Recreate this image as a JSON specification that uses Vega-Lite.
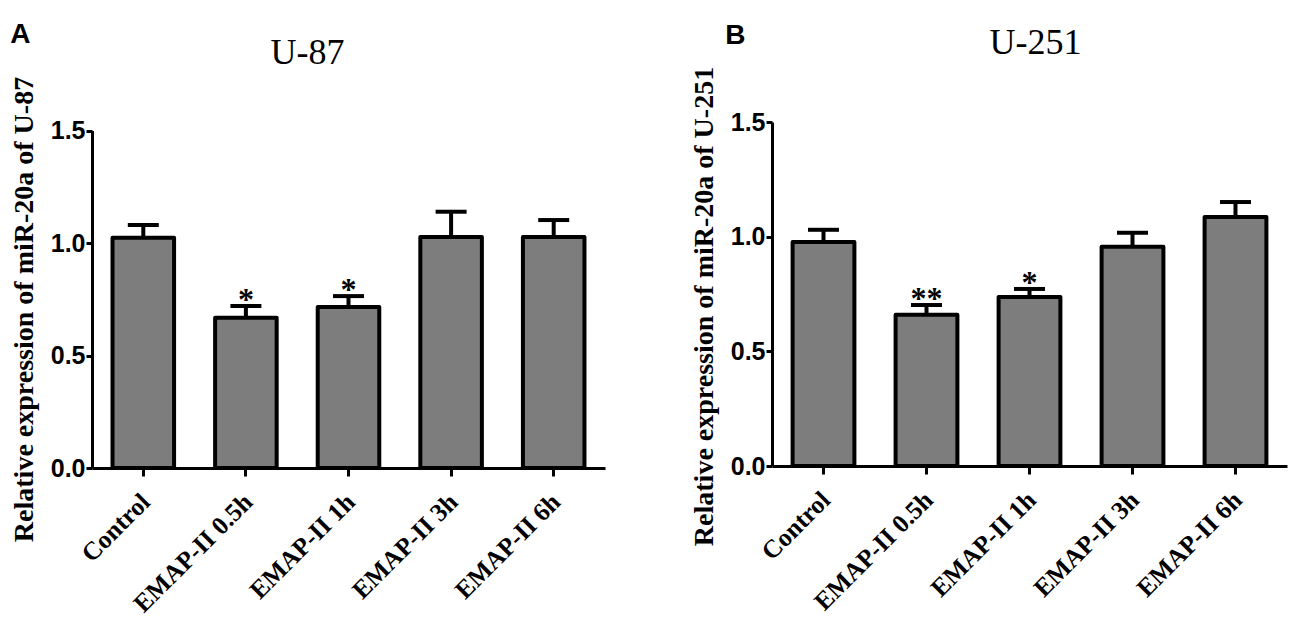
{
  "$schema": "https://vega.github.io/schema/vega-lite/v6.json",
  "background": "white",
  "padding": {"left": 10, "top": 21, "right": 4, "bottom": 4},
  "config": {
    "view": {"stroke": null},
    "axis": {
      "domainColor": "black", "domainWidth": 3, "tickColor": "black", "tickWidth": 3,
      "labelColor": "black", "titleColor": "black", "grid": false
    },
    "concat": {"spacing": 85}
  },
  "datasets": {
    "u87": [
      {"group": "Control", "mean": 1.023, "err": 1.08, "sig": ""},
      {"group": "EMAP-II 0.5h", "mean": 0.668, "err": 0.72, "sig": "*"},
      {"group": "EMAP-II 1h", "mean": 0.716, "err": 0.764, "sig": "*"},
      {"group": "EMAP-II 3h", "mean": 1.027, "err": 1.139, "sig": ""},
      {"group": "EMAP-II 6h", "mean": 1.027, "err": 1.102, "sig": ""}
    ],
    "u251": [
      {"group": "Control", "mean": 0.977, "err": 1.03, "sig": ""},
      {"group": "EMAP-II 0.5h", "mean": 0.659, "err": 0.702, "sig": "**"},
      {"group": "EMAP-II 1h", "mean": 0.737, "err": 0.772, "sig": "*"},
      {"group": "EMAP-II 3h", "mean": 0.956, "err": 1.017, "sig": ""},
      {"group": "EMAP-II 6h", "mean": 1.086, "err": 1.151, "sig": ""}
    ]
  },
  "hconcat": [
    {
      "title": {"text": "A", "anchor": "start", "frame": "bounds", "font": "Liberation Sans", "fontSize": 28, "fontWeight": "bold", "color": "black", "offset": -14},
      "vconcat": [
        {
          "width": 513, "height": 346,
          "title": {"text": "U-87", "anchor": "middle", "frame": "bounds", "font": "Liberation Serif", "fontSize": 36, "fontWeight": "normal", "color": "black", "offset": 4},
          "data": {"name": "u87"},
          "encoding": {
            "x": {"field": "group", "type": "nominal", "sort": null,
              "scale": {"paddingInner": 0.4, "paddingOuter": 0.2},
              "axis": {"title": null, "labelAngle": -45, "labelFont": "Liberation Serif", "labelFontSize": 25.5, "labelFontWeight": "bold", "tickSize": 8, "labelPadding": 13, "labelOffset": -6}
            }
          },
          "layer": [
            {"mark": {"type": "rule", "strokeWidth": 4, "color": "black"},
              "encoding": {"y": {"field": "mean", "type": "quantitative"}, "y2": {"field": "err"}}},
            {"mark": {"type": "tick", "size": 31, "thickness": 4, "color": "black", "opacity": 1},
              "encoding": {"y": {"field": "err", "type": "quantitative"}}},
            {"mark": {"type": "bar", "fill": "#7d7d7d", "stroke": "black", "strokeWidth": 4, "strokeJoin": "round"},
              "encoding": {"y": {"field": "mean", "type": "quantitative",
                "scale": {"domain": [0, 1.5], "nice": false, "range": [346, 8.5]},
                "axis": {"title": "Relative expression of miR-20a of U-87", "values": [0, 0.5, 1, 1.5], "format": ".1f",
                  "labelFont": "Liberation Sans", "labelFontSize": 25, "labelFontWeight": "bold", "tickSize": 6, "labelPadding": 1,
                  "titleFont": "Liberation Serif", "titleFontSize": 28, "titleFontWeight": "bold", "titlePadding": 12, "titleY": 187}}}},
            {"mark": {"type": "text", "font": "Liberation Serif", "fontSize": 32, "fontWeight": "bold", "baseline": "alphabetic", "dy": 4, "color": "black"},
              "encoding": {"y": {"field": "err", "type": "quantitative"}, "text": {"field": "sig"}}}
          ]
        }
      ]
    },
    {
      "title": {"text": "B", "anchor": "start", "frame": "bounds", "font": "Liberation Sans", "fontSize": 28, "fontWeight": "bold", "color": "black", "dx": 35, "offset": -25},
      "vconcat": [
        {
          "width": 515, "height": 344,
          "title": {"text": "U-251", "anchor": "middle", "frame": "group", "font": "Liberation Serif", "fontSize": 36, "fontWeight": "normal", "color": "black", "offset": 4, "dx": 6},
          "data": {"name": "u251"},
          "encoding": {
            "x": {"field": "group", "type": "nominal", "sort": null,
              "scale": {"paddingInner": 0.4, "paddingOuter": 0.2},
              "axis": {"title": null, "labelAngle": -45, "labelFont": "Liberation Serif", "labelFontSize": 25.5, "labelFontWeight": "bold", "tickSize": 8, "labelPadding": 13, "labelOffset": -6}
            }
          },
          "layer": [
            {"mark": {"type": "rule", "strokeWidth": 4, "color": "black"},
              "encoding": {"y": {"field": "mean", "type": "quantitative"}, "y2": {"field": "err"}}},
            {"mark": {"type": "tick", "size": 31, "thickness": 4, "color": "black", "opacity": 1},
              "encoding": {"y": {"field": "err", "type": "quantitative"}}},
            {"mark": {"type": "bar", "fill": "#7d7d7d", "stroke": "black", "strokeWidth": 4, "strokeJoin": "round"},
              "encoding": {"y": {"field": "mean", "type": "quantitative",
                "scale": {"domain": [0, 1.5], "nice": false},
                "axis": {"title": "Relative expression of miR-20a of U-251", "values": [0, 0.5, 1, 1.5], "format": ".1f",
                  "labelFont": "Liberation Sans", "labelFontSize": 25, "labelFontWeight": "bold", "tickSize": 6, "labelPadding": 1,
                  "titleFont": "Liberation Serif", "titleFontSize": 28, "titleFontWeight": "bold", "titlePadding": 12, "titleY": 184}}}},
            {"mark": {"type": "text", "font": "Liberation Serif", "fontSize": 32, "fontWeight": "bold", "baseline": "alphabetic", "dy": 4, "color": "black"},
              "encoding": {"y": {"field": "err", "type": "quantitative"}, "text": {"field": "sig"}}}
          ]
        }
      ]
    }
  ]
}
